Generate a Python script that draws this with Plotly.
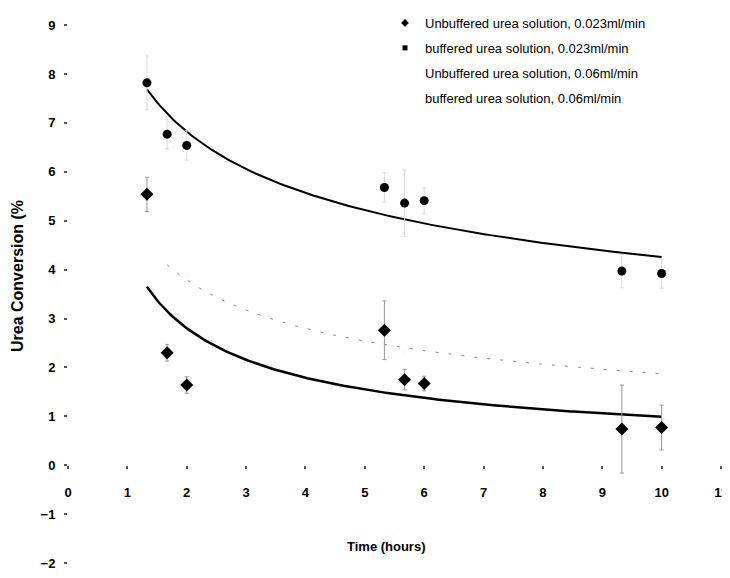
import numpy as np
import plotly.graph_objects as go

# ---- data ----
time_h = [1.33, 1.67, 2.0, 5.33, 5.67, 6.0, 9.33, 10.0]
unbuf_023 = [5.54, 2.30, 1.64, 2.76, 1.75, 1.67, 0.74, 0.77]
unbuf_023_err = [0.35, 0.17, 0.17, 0.60, 0.21, 0.15, 0.90, 0.46]
buf_023 = [7.82, 6.77, 6.54, 5.68, 5.36, 5.41, 3.97, 3.92]
buf_023_err = [0.55, 0.30, 0.30, 0.30, 0.68, 0.26, 0.34, 0.30]
time_06 = [1.67, 2.0, 5.33, 5.67, 6.0, 9.33, 10.0]
unbuf_06 = [4.0, 3.9, 2.5, 2.3, 2.4, 1.9, 1.9]

legend_labels = [
    "Unbuffered urea solution, 0.023ml/min",
    "buffered urea solution, 0.023ml/min",
    "Unbuffered urea solution, 0.06ml/min",
    "buffered urea solution, 0.06ml/min",
]
x_ticks = list(range(0, 12))
y_ticks = list(range(-2, 10))
x_title = "Time (hours)"
y_title = "Urea Conversion (%"

FONT = "Liberation Sans, Arial, sans-serif"

# page body has an 8px margin, so the figure is drawn 8px right/down
OFF = 8
W, H = 722, 570
M_L, M_R, M_T, M_B = 60, 9, 0, 15
Y_MIN, Y_MAX = -2, 9.35
PLOT_W = W - M_L - M_R
PLOT_H = H - M_T - M_B


def py(pix):
    """screenshot pixel row -> paper fraction"""
    return (H - M_B - (pix - OFF)) / PLOT_H


def px(pix):
    """screenshot pixel column -> paper fraction"""
    return (pix - OFF - M_L) / PLOT_W


def power_fit(x, y):
    b, lna = np.polyfit(np.log(x), np.log(y), 1)
    xs = np.linspace(min(x), max(x), 200)
    return xs, np.exp(lna) * xs ** b


fig = go.Figure()

# faint 0.06 series (practically invisible in the scan) + its trendline
fig.add_trace(go.Scatter(x=time_06, y=unbuf_06, mode="markers",
                         marker=dict(symbol="circle", size=6, color="#fbfbfb"),
                         showlegend=False, hoverinfo="skip"))
tx, ty = power_fit(time_06, unbuf_06)
fig.add_trace(go.Scatter(x=tx, y=ty, mode="lines",
                         line=dict(color="#8a8a8a", width=1, dash="3px,10px"),
                         showlegend=False, hoverinfo="skip"))

# trendlines for 0.023 series
tx, ty = power_fit(time_h, buf_023)
fig.add_trace(go.Scatter(x=tx, y=ty, mode="lines",
                         line=dict(color="black", width=2),
                         showlegend=False, hoverinfo="skip"))
tx, ty = power_fit(time_h, unbuf_023)
fig.add_trace(go.Scatter(x=tx, y=ty, mode="lines",
                         line=dict(color="black", width=2.5),
                         showlegend=False, hoverinfo="skip"))

# data series
fig.add_trace(go.Scatter(x=time_h, y=buf_023, mode="markers",
                         marker=dict(symbol="circle", size=9, color="black"),
                         error_y=dict(type="data", array=buf_023_err, color="#dadada",
                                      thickness=1, width=2),
                         showlegend=False))
fig.add_trace(go.Scatter(x=time_h, y=unbuf_023, mode="markers",
                         marker=dict(symbol="diamond", size=10, color="black"),
                         error_y=dict(type="data", array=unbuf_023_err, color="#999999",
                                      thickness=1, width=2),
                         showlegend=False))

# legend entries
leg_styles = [
    dict(symbol="diamond", size=6, color="black"),
    dict(symbol="square", size=5, color="black"),
    dict(symbol="circle", size=5, color="rgba(0,0,0,0)"),
    dict(symbol="circle", size=5, color="rgba(0,0,0,0)"),
]
for i, (lab, st) in enumerate(zip(legend_labels, leg_styles)):
    fig.add_trace(go.Scatter(x=[None], y=[None], mode="markers", name=lab,
                             marker=st, legendgroup=f"g{i}", showlegend=True))

axis_common = dict(showgrid=False, zeroline=False, showline=False,
                   ticks="outside", ticklen=3, tickwidth=2, tickcolor="#555",
                   tickfont=dict(family=FONT, size=13, color="black", weight="bold"))

fig.update_layout(
    width=W, height=H,
    margin=dict(l=M_L, r=M_R, t=M_T, b=M_B),
    paper_bgcolor="white", plot_bgcolor="white",
    font=dict(family=FONT, color="black"),
    xaxis=dict(range=[0, 11], tickvals=x_ticks, anchor="free",
               position=(0 - Y_MIN) / (Y_MAX - Y_MIN),
               ticklabelstandoff=12, **axis_common),
    yaxis=dict(range=[Y_MIN, Y_MAX], tickvals=y_ticks, ticklabelstandoff=6, **axis_common),
    legend=dict(x=px(385), y=1.0, xanchor="left", yanchor="top",
                bgcolor="rgba(0,0,0,0)", tracegroupgap=5,
                font=dict(family=FONT, size=13, color="black")),
    showlegend=True,
    annotations=[
        dict(text=f"<b>{x_title}</b>", xref="paper", yref="paper",
             x=px(386), y=py(546), showarrow=False,
             xanchor="center", yanchor="middle",
             font=dict(family=FONT, size=13, color="black")),
        dict(text=f"<b>{y_title}</b>", xref="paper", yref="paper",
             x=px(17), y=py(276), showarrow=False, textangle=-90,
             xanchor="center", yanchor="middle",
             font=dict(family=FONT, size=16, color="black")),
    ],
)

fig.write_html("out.html")
